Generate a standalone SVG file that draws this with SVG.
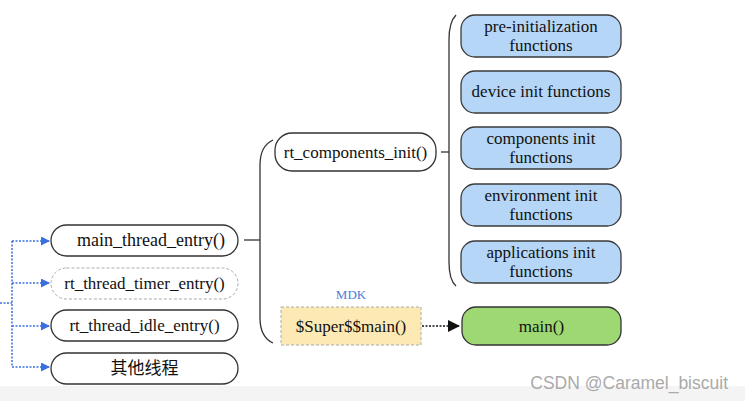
<svg xmlns="http://www.w3.org/2000/svg" width="745" height="401" viewBox="0 0 745 401">
<defs>
<style>
.t{font-size:17px;fill:#111;text-anchor:middle}
.big{font-size:18px}
.pill{fill:#fff;stroke:#333;stroke-width:1.3}
.dash{fill:#fff;stroke:#aaa;stroke-width:1;stroke-dasharray:3 2}
.blue{fill:#b5d6f7;stroke:#3a3a3a;stroke-width:1.3}
.line{fill:none;stroke:#333;stroke-width:1.3}
.bl{fill:none;stroke:#3b6fe0;stroke-width:1.5;stroke-dasharray:2 1.5}
</style>
<marker id="ab" viewBox="0 0 10 10" refX="10" refY="5" markerWidth="9" markerHeight="9" markerUnits="userSpaceOnUse" orient="auto"><path d="M0,0 L10,5 L0,10 z" fill="#3b6fe0"/></marker>
<marker id="ak" viewBox="0 0 10 10" refX="10" refY="5" markerWidth="12" markerHeight="12" markerUnits="userSpaceOnUse" orient="auto"><path d="M0,0 L10,5 L0,10 z" fill="#111"/></marker>
</defs>
<rect x="0" y="0" width="745" height="401" fill="#fff"/>
<rect x="0" y="386" width="745" height="15" fill="#f4f4f4"/>
<g id="connectors">
<path class="bl" d="M0,303 H12 M12,241 V367"/>
<path class="bl" d="M12,241 H50" marker-end="url(#ab)"/>
<path class="bl" d="M12,283 H50" marker-end="url(#ab)"/>
<path class="bl" d="M12,326 H50" marker-end="url(#ab)"/>
<path class="bl" d="M12,367 H50" marker-end="url(#ab)"/>
<path class="line" d="M244,240 H260"/>
<path class="line" d="M273,140 Q260,146 260,165 V318 Q260,337 273,343"/>
<path class="line" d="M441,152 H449"/>
<path class="line" d="M456,15 Q449,22 449,40 V262 Q449,280 456,286"/>
<path d="M422,326 H460" fill="none" stroke="#111" stroke-width="1.6" stroke-dasharray="2 1.5" marker-end="url(#ak)"/>
</g>
<g font-family="Liberation Serif, Noto Sans CJK SC, serif">
<g id="main_thread_entry"><rect class="pill" x="51" y="225" width="187" height="31" rx="15.5"/><text class="t big" x="151" y="246">main_thread_entry()</text></g>
<g id="rt_thread_timer_entry"><rect class="dash" x="51" y="268" width="187" height="31" rx="15.5"/><text class="t" x="144.5" y="289">rt_thread_timer_entry()</text></g>
<g id="rt_thread_idle_entry"><rect class="pill" x="51" y="310" width="187" height="31" rx="15.5"/><text class="t" x="144.5" y="331">rt_thread_idle_entry()</text></g>
<g id="other_threads"><rect class="pill" x="51" y="353" width="187" height="31" rx="15.5"/><text class="t" x="144.5" y="374">其他线程</text></g>
<g id="rt_components_init"><rect class="pill" x="275" y="133" width="161" height="38" rx="17"/><text class="t" x="355.5" y="158">rt_components_init()</text></g>
<g id="pre_init"><rect class="blue" x="461" y="15" width="160" height="42" rx="14"/><text class="t" x="541" y="32">pre-initialization</text><text class="t" x="541" y="51">functions</text></g>
<g id="device_init"><rect class="blue" x="461" y="71" width="160" height="42" rx="14"/><text class="t" x="541" y="97">device init functions</text></g>
<g id="components_init"><rect class="blue" x="461" y="127" width="160" height="42" rx="14"/><text class="t" x="541" y="144">components init</text><text class="t" x="541" y="163">functions</text></g>
<g id="environment_init"><rect class="blue" x="461" y="184" width="160" height="42" rx="14"/><text class="t" x="541" y="201">environment init</text><text class="t" x="541" y="220">functions</text></g>
<g id="applications_init"><rect class="blue" x="461" y="241" width="160" height="42" rx="14"/><text class="t" x="541" y="258">applications init</text><text class="t" x="541" y="277">functions</text></g>
<g id="super_main"><text x="351" y="299" font-size="13" fill="#4a7de0" text-anchor="middle">MDK</text><rect x="281" y="307" width="140" height="38" fill="#fde9b3" stroke="#aaa" stroke-width="1" stroke-dasharray="3 2"/><text class="t" x="351" y="332">$Super$$main()</text></g>
<g id="main"><rect x="462" y="307" width="159" height="38" rx="14" fill="#9dd873" stroke="#333" stroke-width="1.3"/><text class="t" x="541.5" y="332">main()</text></g>
</g>
<text x="728" y="389" font-family="Liberation Sans, Arial, sans-serif" font-size="17.5" fill="#aaa" text-anchor="end">CSDN @Caramel_biscuit</text>
</svg>
